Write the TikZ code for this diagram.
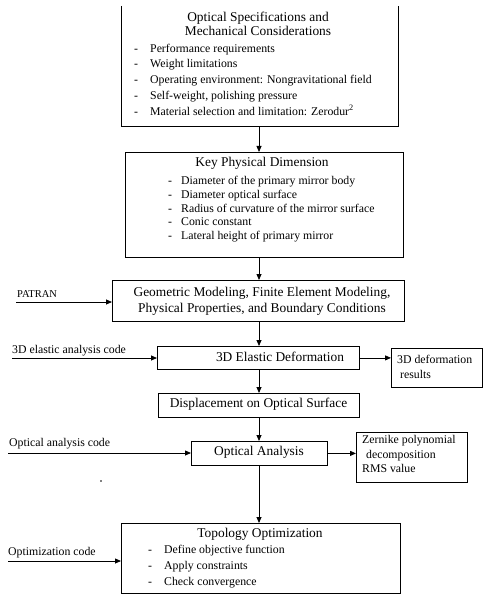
\documentclass[tikz,border=0pt]{standalone}
\usepackage{fontspec}
\setmainfont{Liberation Serif}
\usetikzlibrary{arrows.meta}
\newcommand\myitem[1][16pt]{\makebox[#1][l]{-}}
\begin{document}
\begin{tikzpicture}[x=1pt,y=-1pt,
  box/.style={draw, line width=0.8pt, inner sep=0pt, anchor=north west},
  openbox/.style={inner sep=0pt, anchor=north west},
  edge/.style={line width=0.8pt},
  arr/.style={line width=0.8pt, -{Triangle[length=6pt,width=5pt]}},
  ttl/.style={font=\fontsize{13.4}{15}\selectfont, anchor=mid, inner sep=0pt},
  itm/.style={font=\fontsize{11.8}{13}\selectfont, anchor=mid west, inner sep=0pt},
  lbl/.style={font=\fontsize{11.8}{13}\selectfont, anchor=mid west, inner sep=0pt}
]
\useasboundingbox (0,0) rectangle (483,596);
\fill[white] (0,0) rectangle (483,596);

% boxes
\node[openbox, minimum width=277pt, minimum height=120pt] (b1) at (121,6) {};
\draw[edge] (b1.north west) -- (b1.south west) -- (b1.south east) -- (b1.north east);
\node[box, minimum width=278pt, minimum height=105pt] (b2) at (125,152) {};
\node[box, minimum width=292pt, minimum height=41pt] (b3) at (112,280) {};
\node[box, minimum width=202pt, minimum height=23pt] (b4) at (157,346) {};
\node[box, minimum width=91pt, minimum height=39pt] (b5) at (391,348) {};
\node[box, minimum width=201pt, minimum height=24pt] (b6) at (158,393) {};
\node[box, minimum width=136pt, minimum height=24pt] (b7) at (191,441) {};
\node[box, minimum width=111pt, minimum height=50pt] (b8) at (356,432) {};
\node[box, minimum width=279pt, minimum height=70pt] (b9) at (121,523) {};

% box 1 text
\node[ttl] (t1a) at (258,19) {Optical Specifications and};
\node[ttl] (t1b) at (258,33) {Mechanical Considerations};
\node[itm] (t1c) at (134,50) {\myitem Performance requirements};
\node[itm] (t1d) at (134,65) {\myitem Weight limitations};
\node[itm] (t1e) at (134,81) {\myitem Operating environment: Nongravitational field};
\node[itm] (t1f) at (134,97) {\myitem Self-weight, polishing pressure};
\node[itm] (t1g) at (134,113) {\myitem Material selection and limitation: Zerodur\textsuperscript{2}};

% box 2 text
\node[ttl] (t2a) at (262,164) {Key Physical Dimension};
\node[itm] (t2b) at (168,182) {\myitem[13pt]Diameter of the primary mirror body};
\node[itm] (t2c) at (168,196) {\myitem[13pt]Diameter optical surface};
\node[itm] (t2d) at (168,210) {\myitem[13pt]Radius of curvature of the mirror surface};
\node[itm] (t2e) at (168,223) {\myitem[13pt]Conic constant};
\node[itm] (t2f) at (168,237) {\myitem[13pt]Lateral height of primary mirror};

% box 3 text
\node[ttl] (t3a) at (262,294) {Geometric Modeling, Finite Element Modeling,};
\node[ttl] (t3b) at (262,310) {Physical Properties, and Boundary Conditions};

% other box texts
\node[ttl] (t4) at (280,359) {3D Elastic Deformation};
\node[itm] (t5a) at (397,361) {3D deformation};
\node[itm] (t5b) at (400,376) {results};
\node[ttl] (t6) at (258.5,405) {Displacement on Optical Surface};
\node[ttl] (t7) at (259,453) {Optical Analysis};
\node[itm] (t8a) at (362,441) {Zernike polynomial};
\node[itm] (t8b) at (366,456) {decomposition};
\node[itm] (t8c) at (362,470) {RMS value};

% box 9 text
\node[ttl] (t9a) at (260,535) {Topology Optimization};
\node[itm] (t9b) at (148,551) {\myitem Define objective function};
\node[itm] (t9c) at (148,567) {\myitem Apply constraints};
\node[itm] (t9d) at (148,583) {\myitem Check convergence};

% main vertical flow
\coordinate (ax) at (259,0);
\draw[arr] (b1.south -| ax) -- (b2.north -| ax);
\draw[arr] (b2.south -| ax) -- (b3.north -| ax);
\draw[arr] (b3.south -| ax) -- (b4.north -| ax);
\draw[arr] (b4.south -| ax) -- (b6.north -| ax);
\draw[arr] (b6.south -| ax) -- (b7.north -| ax);
\draw[arr] (b7.south -| ax) -- (b9.north -| ax);

% side outputs
\draw[arr] (b4.east) -- (b4.east -| b5.west);
\draw[arr] (b7.east) -- (b7.east -| b8.west);

% side inputs
\coordinate (in1) at (16,302);
\coordinate (in2) at (12,358);
\coordinate (in3) at (8,453);
\coordinate (in4) at (8,561);
\node[lbl, font=\fontsize{10.5}{12}\selectfont] (l1) at (17,295) {PATRAN};
\node[lbl] (l2) at (12,351) {3D elastic analysis code};
\node[lbl] (l3) at (9,444) {Optical analysis code};
\node[lbl] (l4) at (8,553) {Optimization code};
\draw[arr] (in1) -- (in1 -| b3.west);
\draw[arr] (in2) -- (in2 -| b4.west);
\draw[arr] (in3) -- (in3 -| b7.west);
\draw[arr] (in4) -- (in4 -| b9.west);

% stray mark
\fill (101,481) circle (0.8);
\end{tikzpicture}
\end{document}
